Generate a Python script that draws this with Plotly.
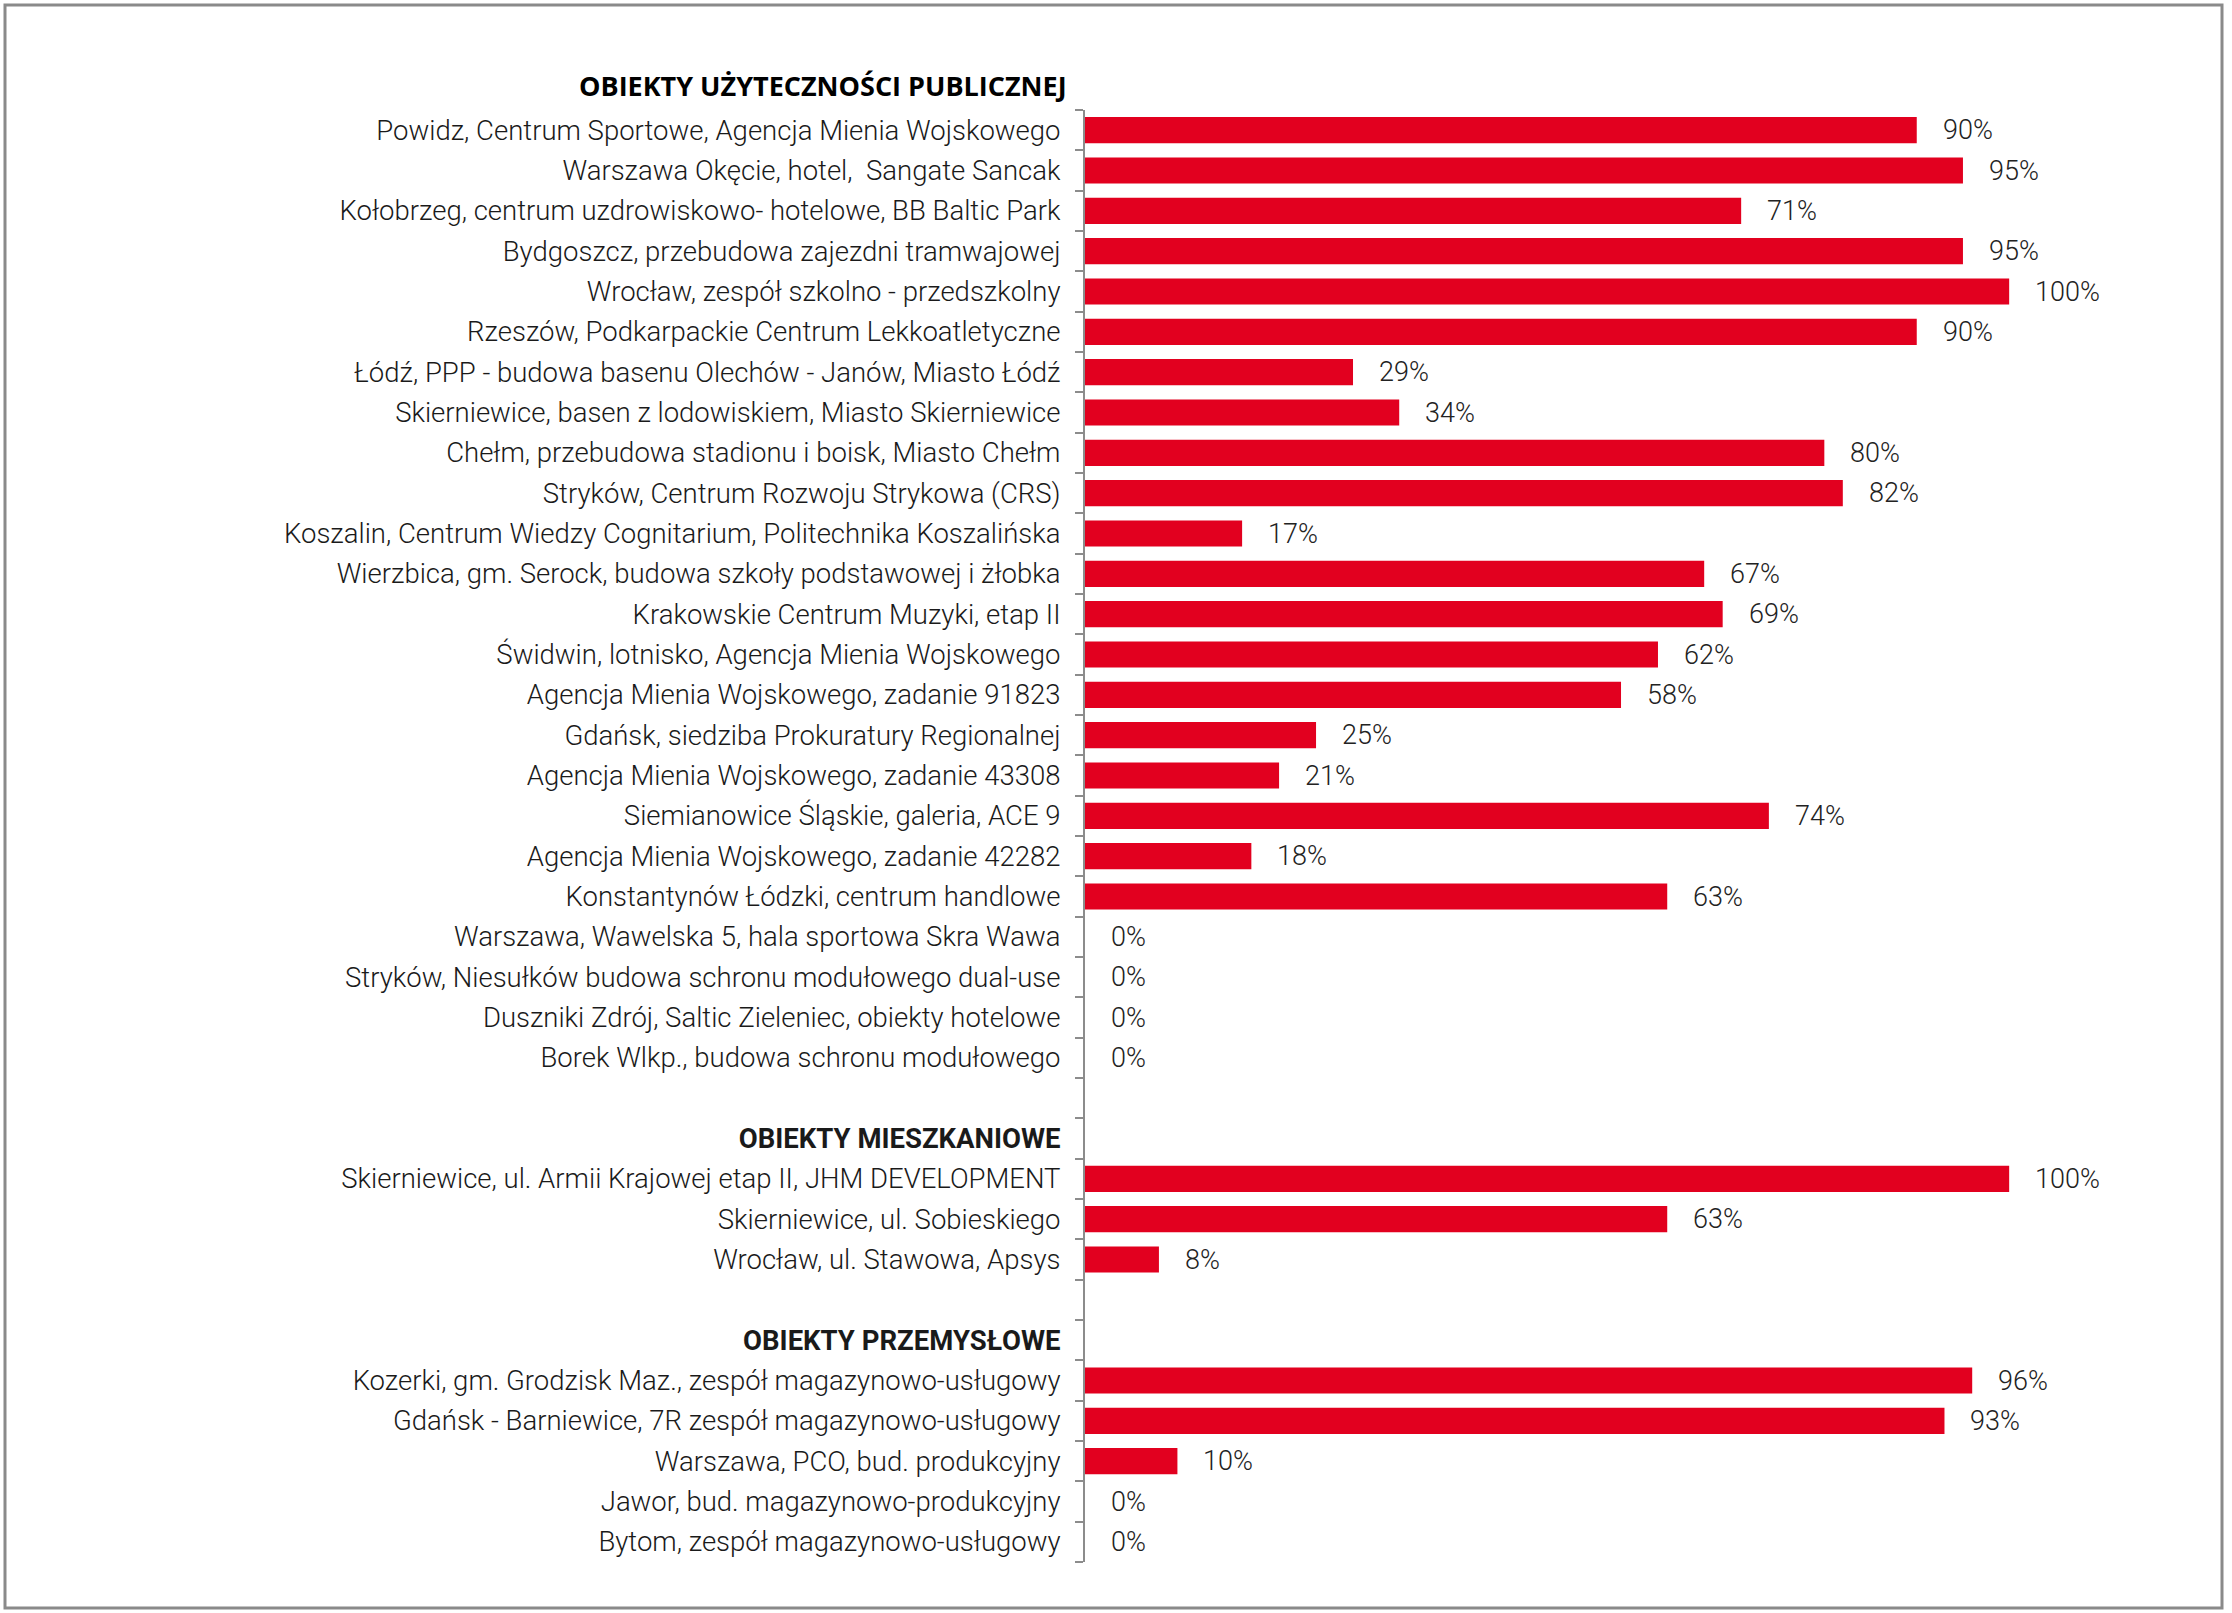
import plotly.graph_objects as go

# group headers and items (percent of completion)
header_public = "OBIEKTY UŻYTECZNOŚCI PUBLICZNEJ"
public_labels = [
    "Powidz, Centrum Sportowe, Agencja Mienia Wojskowego",
    "Warszawa Okęcie, hotel,  Sangate Sancak",
    "Kołobrzeg, centrum uzdrowiskowo- hotelowe, BB Baltic Park",
    "Bydgoszcz, przebudowa zajezdni tramwajowej",
    "Wrocław, zespół szkolno - przedszkolny",
    "Rzeszów, Podkarpackie Centrum Lekkoatletyczne",
    "Łódź, PPP - budowa basenu Olechów - Janów, Miasto Łódź",
    "Skierniewice, basen z lodowiskiem, Miasto Skierniewice",
    "Chełm, przebudowa stadionu i boisk, Miasto Chełm",
    "Stryków, Centrum Rozwoju Strykowa (CRS)",
    "Koszalin, Centrum Wiedzy Cognitarium, Politechnika Koszalińska",
    "Wierzbica, gm. Serock, budowa szkoły podstawowej i żłobka",
    "Krakowskie Centrum Muzyki, etap II",
    "Świdwin, lotnisko, Agencja Mienia Wojskowego",
    "Agencja Mienia Wojskowego, zadanie 91823",
    "Gdańsk, siedziba Prokuratury Regionalnej",
    "Agencja Mienia Wojskowego, zadanie 43308",
    "Siemianowice Śląskie, galeria, ACE 9",
    "Agencja Mienia Wojskowego, zadanie 42282",
    "Konstantynów Łódzki, centrum handlowe",
    "Warszawa, Wawelska 5, hala sportowa Skra Wawa",
    "Stryków, Niesułków budowa schronu modułowego dual-use",
    "Duszniki Zdrój, Saltic Zieleniec, obiekty hotelowe",
    "Borek Wlkp., budowa schronu modułowego",
]
public_values = [90, 95, 71, 95, 100, 90, 29, 34, 80, 82, 17, 67, 69, 62, 58, 25, 21, 74, 18, 63, 0, 0, 0, 0]

header_residential = "OBIEKTY MIESZKANIOWE"
residential_labels = [
    "Skierniewice, ul. Armii Krajowej etap II, JHM DEVELOPMENT",
    "Skierniewice, ul. Sobieskiego",
    "Wrocław, ul. Stawowa, Apsys",
]
residential_values = [100, 63, 8]

header_industrial = "OBIEKTY PRZEMYSŁOWE"
industrial_labels = [
    "Kozerki, gm. Grodzisk Maz., zespół magazynowo-usługowy",
    "Gdańsk - Barniewice, 7R zespół magazynowo-usługowy",
    "Warszawa, PCO, bud. produkcyjny",
    "Jawor, bud. magazynowo-produkcyjny",
    "Bytom, zespół magazynowo-usługowy",
]
industrial_values = [96, 93, 10, 0, 0]

RED = "#E2001F"
FONT = "Roboto"
HFONT = "Open Sans"

# build row positions: a blank row and a header row between groups
labels, values, pos = [], [], []
tickvals, ticktext = [], []
row = 0
for lab, v in zip(public_labels, public_values):
    labels.append(lab); values.append(v); pos.append(row)
    tickvals.append(row); ticktext.append(lab)
    row += 1
for hdr, labs, vals in [(header_residential, residential_labels, residential_values),
                        (header_industrial, industrial_labels, industrial_values)]:
    row += 1  # blank
    tickvals.append(row); ticktext.append("<b>" + hdr + "</b>")
    row += 1
    for lab, v in zip(labs, vals):
        labels.append(lab); values.append(v); pos.append(row)
        tickvals.append(row); ticktext.append(lab)
        row += 1
n_rows = row

W, H = 2232, 1613
ml, mr, mt, mb = 1085, 38, 110, 51
pw = W - ml - mr
ph = H - mt - mb

fig = go.Figure()
fig.add_trace(go.Bar(
    x=values, y=pos, orientation="h",
    marker=dict(color=RED, line=dict(width=0)),
    width=0.65, hoverinfo="skip",
))

for v, p in zip(values, pos):
    fig.add_annotation(
        x=v, y=p, text=f"{v}%", showarrow=False,
        xanchor="left", yanchor="middle", xshift=24,
        font=dict(family=FONT, size=27, color="#222222", weight=300),
    )

# first header sits above the axis
fig.add_annotation(
    x=0, y=1 + 25 / ph, xref="paper", yref="paper",
    text="<b>" + header_public + "</b>",
    showarrow=False, xanchor="right", yanchor="middle", xshift=-16,
    font=dict(family=HFONT, size=27, color="black"),
)

fig.update_layout(
    width=W, height=H,
    margin=dict(l=ml, r=mr, t=mt, b=mb),
    plot_bgcolor="white", paper_bgcolor="white",
    showlegend=False,
    xaxis=dict(range=[0, 120], visible=False, fixedrange=True),
    yaxis=dict(
        range=[n_rows - 0.5, -0.5],
        tickmode="array", tickvals=tickvals, ticktext=ticktext,
        ticks="", showgrid=False, zeroline=False,
        showline=True, linecolor="#8c8c8c", linewidth=2,
        ticklabelstandoff=17,
        tickfont=dict(family=FONT, size=27.5, color="#1a1a1a", weight=300),
        minor=dict(tickmode="linear", tick0=-0.5, dtick=1, ticks="outside",
                   ticklen=8, tickwidth=2, tickcolor="#8c8c8c", showgrid=False),
    ),
    shapes=[dict(
        type="rect", xref="paper", yref="paper",
        x0=(5 - ml) / pw, x1=(W - 10 - ml) / pw,
        y0=-(H - 5 - mt - ph) / ph, y1=1 + (mt - 5) / ph,
        line=dict(color="#8a8a8a", width=3), fillcolor="rgba(0,0,0,0)",
    )],
)

fig.write_html("out.html", config={"displayModeBar": False},
               post_script="document.body.style.margin='0';document.body.style.overflow='hidden';")
